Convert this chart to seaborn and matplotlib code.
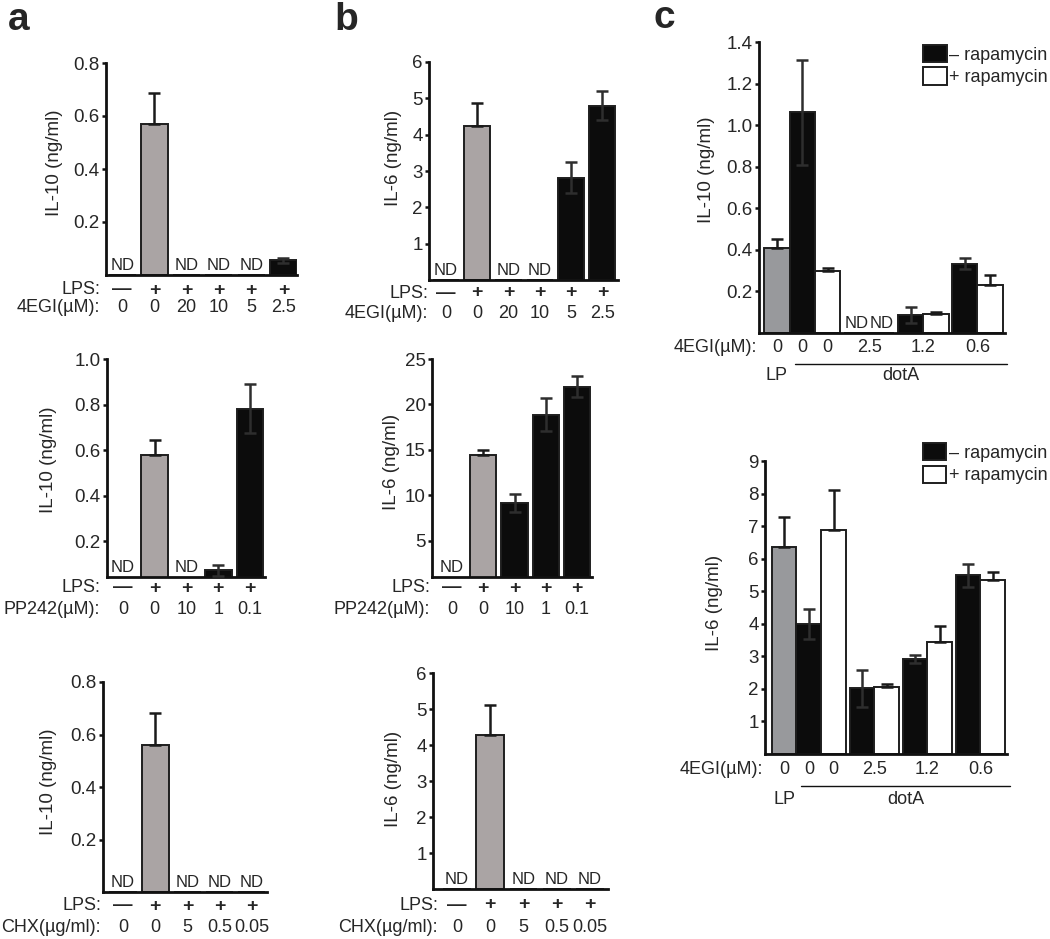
import pandas as pd
import matplotlib.pyplot as plt
import seaborn as sns
from matplotlib.patches import Patch

# ---- data: panels a/b (LPS + inhibitor dose series) ----
lps_row = ["\u2014", "+", "+", "+", "+", "+"]
bar_kind = ["none", "LPS", "drug", "drug", "drug", "drug"]

egi_doses = ["0", "0", "20", "10", "5", "2.5"]
il10_egi = [None, 0.57, None, None, None, 0.055]
il10_egi_err = [0, 0.115, 0, 0, 0, 0.01]
il6_egi = [None, 4.25, None, None, 2.82, 4.80]
il6_egi_err = [0, 0.63, 0, 0, 0.43, 0.40]

pp_doses = ["0", "0", "10", "1", "0.1"]
il10_pp = [None, 0.577, None, 0.073, 0.782]
il10_pp_err = [0, 0.066, 0, 0.025, 0.107]
il6_pp = [None, 14.45, 9.2, 18.9, 21.95]
il6_pp_err = [0, 0.5, 1.0, 1.8, 1.15]

chx_doses = ["0", "0", "5", "0.5", "0.05"]
il10_chx = [None, 0.561, None, None, None]
il10_chx_err = [0, 0.121, 0, 0, 0]
il6_chx = [None, 4.29, None, None, None]
il6_chx_err = [0, 0.83, 0, 0, 0]

# ---- data: panel c (LP control, dotA -/+ rapamycin per 4EGI dose) ----
c_rapa = ["LP", "-", "+", "-", "+", "-", "+", "-", "+"]
c_doses = ["0", "0", "0", "2.5", "1.2", "0.6"]
c_il10 = [0.411, 1.061, 0.297, None, None, 0.086, 0.091, 0.334, 0.23]
c_il10_err = [0.043, 0.252, 0.018, 0, 0, 0.037, 0.011, 0.028, 0.048]
c_il6 = [6.35, 3.99, 6.88, 2.02, 2.05, 2.91, 3.45, 5.49, 5.35]
c_il6_err = [0.94, 0.45, 1.22, 0.57, 0.10, 0.13, 0.48, 0.35, 0.24]

BLACK = "#0c0c0c"
EDGE = "#1e1e1e"
palette = {"none": "white", "LPS": "#aaa4a4", "drug": BLACK,
           "LP": "#98999c", "-": BLACK, "+": "white"}

sns.set_theme(style="white")
plt.rcParams["font.family"] = ["Liberation Sans", "DejaVu Sans"]

W, H = 1050, 939
PX = 0.72  # points per pixel at 100 dpi
FS = 13
fig = plt.figure(figsize=(W / 100, H / 100), dpi=100)


def make_axes(rect):
    x0, x1, y0, y1 = rect
    return fig.add_axes([x0 / W, 1 - y1 / H, (x1 - x0) / W, (y1 - y0) / H])


def style_axes(ax, rect, xlim, ylim, yticks, fmt, ylabel, ylab):
    ax.set_xlim(*xlim)
    ax.set_ylim(*ylim)
    ax.set_yticks(yticks)
    ax.set_yticklabels([fmt.format(t) for t in yticks])
    ax.set_xticks([])
    ax.set_xlabel("")
    sns.despine(ax=ax)
    for s in ("left", "bottom"):
        ax.spines[s].set_linewidth(2.0)
        ax.spines[s].set_color("#111111")
    ax.tick_params(axis="y", left=True, direction="out", length=3, width=1.8,
                   labelsize=13.5, pad=1.5, color="#111111")
    ax.set_ylabel(ylabel, fontsize=13.5)
    x0, x1, y0, y1 = rect
    dx, yc = ylab
    ax.yaxis.set_label_coords(dx / (x1 - x0), (y1 - yc) / (y1 - y0))


def draw_errors(ax, xs, vals, errs, kinds):
    for x, v, e, k in zip(xs, vals, errs, kinds):
        if v is None:
            continue
        low = e if k in ("drug", "-") else 0
        ax.errorbar(x, v, yerr=[[low], [e]], fmt="none",
                    ecolor="#2e2e2e" if low else "#1a1a1a",
                    elinewidth=1.8, capsize=4.3, capthick=1.8, zorder=5)


def mark_nd(ax, xs, vals, ybase):
    for x, v in zip(xs, vals):
        if v is None:
            ax.annotate("ND", xy=(x, ybase), xytext=(0, 1.5), textcoords="offset points",
                        ha="center", va="bottom", fontsize=12)


def text_row(ax, xs, labels, dy, size=FS, weight="normal"):
    for x, lab in zip(xs, labels):
        ax.annotate(lab, xy=(x, 0), xycoords=("data", "axes fraction"),
                    xytext=(0, -dy * PX), textcoords="offset points",
                    ha="center", va="center", fontsize=size, fontweight=weight,
                    annotation_clip=False)


def row_name(ax, name, dx, dy):
    ax.annotate(name, xy=(0, 0), xycoords="axes fraction",
                xytext=(dx * PX, -dy * PX), textcoords="offset points",
                ha="right", va="center", fontsize=FS, annotation_clip=False)


def dose_panel(rect, xlim, vals, errs, doses, drug, ylabel, ylim, yticks, fmt,
               ylab, rows_dy, name_dx):
    ax = make_axes(rect)
    n = len(vals)
    df = pd.DataFrame({"bar": [str(i) for i in range(n)],
                       "value": [0 if v is None else v for v in vals],
                       "kind": bar_kind[:n]})
    sns.barplot(data=df, x="bar", y="value", hue="kind", palette=palette,
                saturation=1, width=0.84, edgecolor=EDGE, linewidth=1.4,
                errorbar=None, legend=False, ax=ax)
    draw_errors(ax, range(n), vals, errs, bar_kind[:n])
    mark_nd(ax, range(n), vals, ylim[0])
    style_axes(ax, rect, xlim, ylim, yticks, fmt, ylabel, ylab)
    text_row(ax, range(n), lps_row[:n], rows_dy[0], size=14, weight="bold")
    text_row(ax, range(n), doses, rows_dy[1])
    row_name(ax, "LPS:", name_dx, rows_dy[0])
    row_name(ax, drug, name_dx, rows_dy[1])
    return ax


def c_positions():
    pos, g = [], -1
    for r in c_rapa:
        if r == "LP":
            pos.append(0.0)
            continue
        if r == "-":
            g += 1
        pos.append(1 + g * 2.14 + (1 if r == "+" else 0))
    return pos


def rapa_panel(rect, xlim, vals, errs, ylabel, ylim, yticks, fmt, ylab, leg_xy, dys):
    ax = make_axes(rect)
    pos = c_positions()
    df = pd.DataFrame({"pos": pos,
                       "value": [0 if v is None else v for v in vals],
                       "kind": c_rapa})
    sns.barplot(data=df, x="pos", y="value", hue="kind", palette=palette,
                native_scale=True, saturation=1, width=1.0, edgecolor=EDGE,
                linewidth=1.4, errorbar=None, legend=False, ax=ax)
    draw_errors(ax, pos, vals, errs, c_rapa)
    mark_nd(ax, pos, vals, ylim[0])
    style_axes(ax, rect, xlim, ylim, yticks, fmt, ylabel, ylab)

    label_x = pos[:3] + [(pos[i] + pos[i + 1]) / 2 for i in (3, 5, 7)]
    text_row(ax, label_x, c_doses, dys[0])
    row_name(ax, "4EGI(\u00b5M):", -2, dys[0])
    h = rect[3] - rect[2]
    ax.plot([0.7, 9.1], [-dys[1] / h] * 2, transform=ax.get_xaxis_transform(),
            color="#111111", lw=1.0, clip_on=False)
    text_row(ax, [0, 4.9], ["LP", "dotA"], dys[2])

    handles = [Patch(facecolor=BLACK, edgecolor=EDGE, linewidth=1.4, label="\u2013 rapamycin"),
               Patch(facecolor="white", edgecolor=EDGE, linewidth=1.4, label="+ rapamycin")]
    ax.legend(handles=handles, loc="upper left", bbox_to_anchor=leg_xy, frameon=False,
              fontsize=13, handlelength=1.3, handleheight=1.1, handletextpad=0.12,
              labelspacing=0.2, borderpad=0, borderaxespad=0)
    return ax


# panel a
dose_panel((106, 297, 63, 275), (-0.5, 5.42), il10_egi, il10_egi_err, egi_doses,
           "4EGI(\u00b5M):", "IL-10 (ng/ml)", (0, 0.8), [0.2, 0.4, 0.6, 0.8], "{:.1f}",
           (-43, 163), (15, 32), -6)
dose_panel((107, 265, 359, 577), (-0.5, 4.47), il10_pp, il10_pp_err, pp_doses,
           "PP242(\u00b5M):", "IL-10 (ng/ml)", (0.044, 1.0), [0.2, 0.4, 0.6, 0.8, 1.0],
           "{:.1f}", (-50, 460), (11, 32), -7)
dose_panel((103, 267, 682, 892), (-0.62, 4.47), il10_chx, il10_chx_err, chx_doses,
           "CHX(\u00b5g/ml):", "IL-10 (ng/ml)", (0, 0.8), [0.2, 0.4, 0.6, 0.8], "{:.1f}",
           (-46, 782), (14, 36), -2)

# panel b
dose_panel((429, 618, 62, 280), (-0.54, 5.5), il6_egi, il6_egi_err, egi_doses,
           "4EGI(\u00b5M):", "IL-6 (ng/ml)", (0, 6), [1, 2, 3, 4, 5, 6], "{:d}",
           (-27, 158), (13, 33), -1)
dose_panel((432, 592, 359, 577), (-0.64, 4.48), il6_pp, il6_pp_err, pp_doses,
           "PP242(\u00b5M):", "IL-6 (ng/ml)", (1.04, 25), [5, 10, 15, 20, 25], "{:d}",
           (-32, 462), (11, 33), -2)
dose_panel((433, 608, 673, 889), (-0.72, 4.54), il6_chx, il6_chx_err, chx_doses,
           "CHX(\u00b5g/ml):", "IL-6 (ng/ml)", (0, 6), [1, 2, 3, 4, 5, 6], "{:d}",
           (-31, 779), (16, 38), 5)

# panel c
rapa_panel((759, 1005, 42, 333), (-0.71, 9.01), c_il10, c_il10_err, "IL-10 (ng/ml)",
           (0, 1.4), [0.2, 0.4, 0.6, 0.8, 1.0, 1.2, 1.4], "{:.1f}", (-44, 170),
           (0.667, 0.99), (14, 31, 42))
rapa_panel((765, 1007, 461, 754), (-0.77, 8.99), c_il6, c_il6_err, "IL-6 (ng/ml)",
           (0, 9), list(range(1, 10)), "{:d}", (-42, 603),
           (0.653, 1.061), (16, 32, 45))

for letter, x, y in (("a", 8, 30), ("b", 334, 30), ("c", 653, 28)):
    fig.text(x / W, 1 - y / H, letter, fontsize=28, fontweight="bold", va="baseline")

fig.savefig("out.png", dpi=100)
